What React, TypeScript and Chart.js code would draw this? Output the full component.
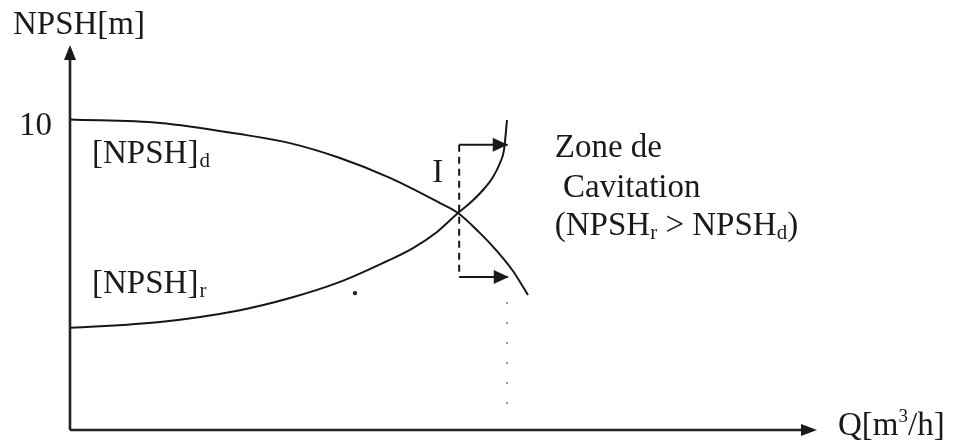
import React, { useEffect, useRef } from "react";
import { Chart, registerables } from "chart.js";

Chart.register(...registerables);

// Flow rate Q (arbitrary units along the axis) and NPSH values [m]
const qAvailable = [0, 12.05, 22.76, 29.45, 36.14, 42.84, 49.53, 51.94, 54.89, 57.16, 59.3, 61.31];
const npshAvailable = [10.0, 9.89, 9.53, 9.24, 8.76, 8.12, 7.31, 6.99, 6.34, 5.76, 5.12, 4.35];
const qRequired = [0, 12.05, 22.76, 29.45, 36.14, 42.17, 45.92, 49.13, 51.94, 53.55, 55.29, 56.63, 57.56, 58.1, 58.5];
const npshRequired = [3.29, 3.48, 3.86, 4.25, 4.77, 5.41, 5.86, 6.38, 6.99, 7.31, 7.73, 8.15, 8.6, 9.02, 9.98];

// Cavitation-zone markers
const markerQ = [52.1, 58.6];
const markerNpshTop = [9.19, 9.19];
const markerNpshBottom = [4.93, 4.93];
const projectionQ = [58.5, 58.5];
const projectionNpsh = [4.12, 0.42];
const strayMarkQ = [38.15];
const strayMarkNpsh = [4.41];

const yTicks = [10];
const Q_MAX = 100;
const NPSH_MAX = 12.4;

const FONT = '"Liberation Serif", "Times New Roman", serif';

const toPts = (xs: number[], ys: number[]) => xs.map((x, i) => ({ x, y: ys[i] }));

function App() {
  const ref = useRef<HTMLCanvasElement | null>(null);

  useEffect(() => {
    const canvas = ref.current;
    if (!canvas) return;

    const drawPlugin = {
      id: "npshDecor",
      afterDraw(chart: any) {
        const { ctx, chartArea, scales } = chart;
        const xs = scales.x;
        const ys = scales.y;
        const X = (v: number) => xs.getPixelForValue(v);
        const Y = (v: number) => ys.getPixelForValue(v);
        const left = chartArea.left;
        const bottom = chartArea.bottom;
        const top = chartArea.top;
        const right = chartArea.right;

        ctx.save();
        ctx.fillStyle = "#1a1a1a";
        ctx.strokeStyle = "#222";

        // axes
        ctx.lineWidth = 2.6;
        ctx.beginPath();
        ctx.moveTo(left, bottom);
        ctx.lineTo(left, top + 12);
        ctx.moveTo(left, bottom);
        ctx.lineTo(right - 12, bottom);
        ctx.stroke();
        // axis arrowheads
        ctx.beginPath();
        ctx.moveTo(left, top);
        ctx.lineTo(left - 6, top + 15);
        ctx.lineTo(left + 6, top + 15);
        ctx.closePath();
        ctx.fill();
        ctx.beginPath();
        ctx.moveTo(right, bottom);
        ctx.lineTo(right - 16, bottom - 6);
        ctx.lineTo(right - 16, bottom + 6);
        ctx.closePath();
        ctx.fill();

        // marker arrowheads
        const head = (tipX: number, tipY: number) => {
          ctx.beginPath();
          ctx.moveTo(tipX, tipY);
          ctx.lineTo(tipX - 15, tipY - 7);
          ctx.lineTo(tipX - 15, tipY + 7);
          ctx.closePath();
          ctx.fill();
        };
        head(X(markerQ[1]), Y(markerNpshTop[1]));
        head(X(markerQ[1]) + 1, Y(markerNpshBottom[1]));

        // texts
        const txt = (s: string, x: number, y: number, size = 33) => {
          ctx.font = `${size}px ${FONT}`;
          ctx.fillText(s, x, y);
          return ctx.measureText(s).width;
        };
        ctx.textBaseline = "alphabetic";
        ctx.textAlign = "left";

        // axis titles
        txt("NPSH[m]", left - 57, top - 11);
        let qx = right + 21;
        const qy = bottom + 5;
        qx += txt("Q[m", qx, qy);
        qx += txt("3", qx, qy - 13, 19);
        txt("/h]", qx, qy);

        // y tick labels
        ctx.textAlign = "right";
        yTicks.forEach((t) => txt(String(t), left - 18, Y(t) + 15));
        ctx.textAlign = "left";

        // curve labels
        let lx = X(2.95);
        lx += txt("[NPSH]", lx, Y(8.6));
        txt("d", lx + 1, Y(8.6) + 4, 21);
        lx = X(2.95);
        lx += txt("[NPSH]", lx, Y(4.41));
        txt("r", lx + 1, Y(4.41) + 4, 21);

        txt("I", X(48.5), Y(7.99));

        txt("Zone de", X(64.9), Y(8.79));
        txt("Cavitation", X(66.0), Y(7.5));
        let zx = X(64.9);
        const zy = Y(6.28);
        zx += txt("(NPSH", zx, zy);
        zx += txt("r", zx, zy + 4, 21);
        zx += txt(" > NPSH", zx, zy);
        zx += txt("d", zx, zy + 4, 21);
        txt(")", zx, zy);

        ctx.restore();
      },
    };

    const black = "#161616";
    const chart = new Chart(canvas, {
      type: "line",
      data: {
        datasets: [
          {
            label: "[NPSH]d",
            data: toPts(qAvailable, npshAvailable),
            borderColor: black,
            borderWidth: 2,
            pointRadius: 0,
            cubicInterpolationMode: "monotone",
          },
          {
            label: "[NPSH]r",
            data: toPts(qRequired, npshRequired),
            borderColor: black,
            borderWidth: 2,
            pointRadius: 0,
            cubicInterpolationMode: "monotone",
          },
          {
            label: "limit",
            data: [
              { x: markerQ[0], y: markerNpshTop[0] },
              { x: markerQ[0], y: markerNpshBottom[0] },
            ],
            borderColor: black,
            borderWidth: 2,
            borderDash: [7, 5],
            pointRadius: 0,
          },
          {
            label: "top arrow",
            data: toPts(markerQ, markerNpshTop),
            borderColor: black,
            borderWidth: 2,
            pointRadius: 0,
          },
          {
            label: "bottom arrow",
            data: toPts(markerQ, markerNpshBottom),
            borderColor: black,
            borderWidth: 2,
            pointRadius: 0,
          },
          {
            label: "projection",
            data: toPts(projectionQ, projectionNpsh),
            borderColor: "#9a9a9a",
            borderWidth: 2,
            borderDash: [2, 18],
            pointRadius: 0,
          },
          {
            label: "mark",
            data: toPts(strayMarkQ, strayMarkNpsh),
            showLine: false,
            pointRadius: 2.2,
            pointBackgroundColor: "#222",
            pointBorderWidth: 0,
          },
        ],
      },
      options: {
        responsive: false,
        animation: false,
        events: [],
        layout: { padding: { left: 70, right: 137, top: 45, bottom: 13 } },
        plugins: { legend: { display: false }, tooltip: { enabled: false } },
        scales: {
          x: { type: "linear", min: 0, max: Q_MAX, display: false },
          y: { type: "linear", min: 0, max: NPSH_MAX, display: false },
        },
      },
      plugins: [drawPlugin],
    } as any);

    return () => chart.destroy();
  }, []);

  return (
    <div style={{ position: "fixed", left: 0, top: 0, width: 954, height: 443, background: "#fff" }}>
      <canvas ref={ref} width={954} height={443} />
    </div>
  );
}

export default App;
